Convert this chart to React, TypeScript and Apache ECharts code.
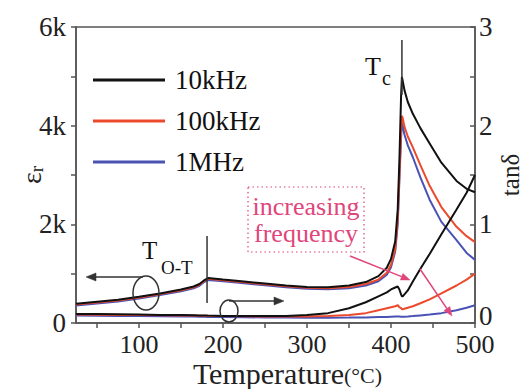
import React, { useEffect, useRef } from "react";
import * as echarts from "echarts";

const temperatures = [25, 50, 75, 100, 125, 150, 165, 172, 178, 182, 200, 225, 250, 275, 300, 325, 350, 370, 385, 395, 400, 405, 408, 410, 412, 413, 414, 416, 420, 426, 435, 446, 460, 478, 490, 500];

const epsBlack = [390, 430, 470, 530, 600, 680, 740, 790, 870, 910, 880, 840, 800, 760, 730, 725, 760, 830, 950, 1120, 1300, 1650, 2300, 3300, 4600, 4990, 4900, 4720, 4480, 4240, 3950, 3640, 3250, 2880, 2720, 2650];
const epsRed = [375, 415, 455, 515, 585, 665, 725, 775, 855, 895, 865, 825, 785, 745, 715, 705, 730, 790, 880, 1020, 1180, 1500, 2100, 3000, 3900, 4200, 4150, 3980, 3780, 3560, 3200, 2780, 2350, 1950, 1760, 1640];
const epsBlue = [355, 395, 435, 495, 565, 645, 705, 755, 835, 870, 845, 805, 765, 725, 695, 685, 705, 760, 845, 980, 1130, 1450, 2000, 2900, 3750, 4050, 4000, 3820, 3600, 3360, 2950, 2500, 2050, 1680, 1420, 1280];

const tanBlack = [0.09, 0.09, 0.088, 0.085, 0.082, 0.08, 0.078, 0.077, 0.076, 0.075, 0.072, 0.07, 0.07, 0.072, 0.08, 0.1, 0.15, 0.21, 0.27, 0.31, 0.34, 0.36, 0.37, 0.34, 0.29, 0.27, 0.27, 0.29, 0.33, 0.42, 0.55, 0.7, 0.9, 1.15, 1.32, 1.5];
const tanRed = [0.085, 0.084, 0.082, 0.08, 0.078, 0.076, 0.075, 0.074, 0.073, 0.072, 0.07, 0.068, 0.066, 0.065, 0.065, 0.07, 0.08, 0.1, 0.13, 0.15, 0.16, 0.17, 0.18, 0.16, 0.15, 0.14, 0.14, 0.145, 0.155, 0.17, 0.2, 0.24, 0.3, 0.38, 0.44, 0.5];
const tanBlue = [0.075, 0.074, 0.072, 0.07, 0.068, 0.066, 0.065, 0.064, 0.063, 0.062, 0.06, 0.058, 0.056, 0.055, 0.054, 0.054, 0.055, 0.057, 0.06, 0.062, 0.064, 0.066, 0.067, 0.066, 0.064, 0.063, 0.063, 0.064, 0.066, 0.07, 0.077, 0.085, 0.1, 0.13, 0.155, 0.18];

const seriesNames = ["10kHz", "100kHz", "1MHz"];
const xTickLabels = [100, 200, 300, 400, 500];
const xTicks = [50, 100, 150, 200, 250, 300, 350, 400, 450, 500];
const yLeftTicks = [0, 1000, 2000, 3000, 4000, 5000, 6000];
const yRightTicks = [0, 0.5, 1, 1.5, 2, 2.5, 3];
const yRightLabels = [1, 2, 3];
const curieT = 413;
const orthoTetT = 181;

const FONT = '"Liberation Serif", "Times New Roman", serif';
const BLACK = "#111111";
const RED = "#ec4a2c";
const BLUE = "#4a52b4";
const PINK = "#e0457b";
const AXIS = "#555555";

function pairs(vals: number[]) {
  return temperatures.map((t, i) => [t, vals[i]]);
}

function arrow(x1: number, y1: number, x2: number, y2: number, color: string, head = 10, half = 4) {
  const dx = x2 - x1;
  const dy = y2 - y1;
  const len = Math.sqrt(dx * dx + dy * dy);
  const ux = dx / len;
  const uy = dy / len;
  const bx = x2 - ux * head;
  const by = y2 - uy * head;
  return [
    { type: "line", shape: { x1, y1, x2: bx, y2: by }, style: { stroke: color, lineWidth: 1.5 }, z: 100 },
    {
      type: "polygon",
      shape: { points: [[x2, y2], [bx - uy * half, by + ux * half], [bx + uy * half, by - ux * half]] },
      style: { fill: color, stroke: color, lineWidth: 0.5 },
      z: 100,
    },
  ];
}

export default function App() {
  const ref = useRef<HTMLDivElement>(null);
  useEffect(() => {
    if (!ref.current) return;
    const chart = echarts.init(ref.current, null, { renderer: "svg" });
    const lineSeries = (name: string, vals: number[], color: string, yAxisIndex: number, z: number) => ({
      type: "line",
      name,
      data: pairs(vals),
      yAxisIndex,
      showSymbol: false,
      symbol: "none",
      lineStyle: { color, width: 2 },
      itemStyle: { color },
      z,
      silent: true,
    });
    const option: any = {
      animation: false,
      backgroundColor: "#ffffff",
      grid: {
        left: 76,
        right: 50,
        top: 27,
        bottom: 66,
        containLabel: false,
        outerBoundsMode: "none",
        show: true,
        borderColor: AXIS,
        borderWidth: 1.5,
        backgroundColor: "transparent",
      },
      legend: {
        data: seriesNames,
        orient: "vertical",
        left: 88,
        top: 60,
        icon: "rect",
        itemWidth: 72,
        itemHeight: 3,
        itemGap: 11,
        selectedMode: false,
        textStyle: { fontFamily: FONT, fontSize: 27, color: BLACK, lineHeight: 30, padding: [0, 0, 0, 5] },
      },
      xAxis: {
        type: "value",
        min: 25,
        max: 500,
        axisLine: { show: true, lineStyle: { color: AXIS, width: 1.5 } },
        axisTick: { show: true, customValues: xTicks, length: 5, lineStyle: { color: AXIS, width: 1.5 } },
        axisLabel: { customValues: xTickLabels, fontFamily: FONT, fontSize: 26, lineHeight: 21, color: "#222", margin: 11 },
        splitLine: { show: false },
        name: "{a|Temperature}{b|(°C)}",
        nameLocation: "middle",
        nameGap: 38,
        nameMoveOverlap: false,
        nameTextStyle: {
          padding: [0, 0, 0, 24],
          rich: {
            a: { fontFamily: FONT, fontSize: 30, lineHeight: 25, color: "#222" },
            b: { fontFamily: FONT, fontSize: 22, lineHeight: 22, color: "#222", verticalAlign: "bottom" },
          },
        },
      },
      yAxis: [
        {
          type: "value",
          min: 0,
          max: 6000,
          interval: 2000,
          axisLine: { show: true, lineStyle: { color: AXIS, width: 1.5 } },
          axisTick: { show: true, customValues: yLeftTicks, length: 5, lineStyle: { color: AXIS, width: 1.5 } },
          axisLabel: {
            fontFamily: FONT,
            fontSize: 27,
            color: "#222",
            margin: 10,
            formatter: (v: number) => (v === 0 ? "0" : `${v / 1000}k`),
          },
          splitLine: { show: false },
          name: "{a|ε}{b|r}",
          nameLocation: "middle",
          nameGap: 30,
          nameRotate: 90,
          nameMoveOverlap: false,
          nameTextStyle: {
            rich: {
              a: { fontFamily: FONT, fontSize: 28, lineHeight: 30, color: "#222" },
              b: { fontFamily: FONT, fontSize: 19, lineHeight: 19, color: "#222", verticalAlign: "bottom" },
            },
          },
        },
        {
          type: "value",
          position: "right",
          min: 0,
          max: 3,
          interval: 1,
          axisLine: { show: true, lineStyle: { color: AXIS, width: 1.5 } },
          axisTick: { show: true, inside: true, customValues: yRightTicks, length: 5, lineStyle: { color: AXIS, width: 1.5 } },
          axisLabel: { customValues: yRightLabels, fontFamily: FONT, fontSize: 27, color: "#222", margin: 4 },
          splitLine: { show: false },
          name: "tanδ",
          nameLocation: "middle",
          nameGap: 23,
          nameRotate: 90,
          nameMoveOverlap: false,
          nameTextStyle: { fontFamily: FONT, fontSize: 25, color: "#222" },
        },
      ],
      series: [
        lineSeries(seriesNames[2], epsBlue, BLUE, 0, 2),
        lineSeries(seriesNames[1], epsRed, RED, 0, 3),
        lineSeries(seriesNames[0], epsBlack, BLACK, 0, 4),
        lineSeries(seriesNames[2], tanBlue, BLUE, 1, 2),
        lineSeries(seriesNames[1], tanRed, RED, 1, 3),
        lineSeries(seriesNames[0], tanBlack, BLACK, 1, 4),
      ],
    };
    chart.setOption(option);

    const pc = chart.convertToPixel({ xAxisIndex: 0, yAxisIndex: 0 }, [curieT, 5000]) as number[];
    const po = chart.convertToPixel({ xAxisIndex: 0, yAxisIndex: 0 }, [orthoTetT, 900]) as number[];
    const pr0 = chart.convertToPixel({ xAxisIndex: 0, yAxisIndex: 1 }, [500, 0]) as number[];
    const tx = pc[0];
    const ox = po[0];

    const txt = (x: number, y: number, text: string, size: number, color = BLACK) => ({
      type: "text",
      x,
      y,
      z: 100,
      style: { text, fill: color, font: `${size}px ${FONT}`, align: "left", verticalAlign: "middle" },
    });

    chart.setOption({
      graphic: [
        { type: "text", x: pr0[0] + 4, y: pr0[1] - 7, z: 100, style: { text: "0", fill: "#222", font: `27px ${FONT}`, align: "left", verticalAlign: "middle" } },
        { type: "line", shape: { x1: tx, y1: 40, x2: tx, y2: 95 }, style: { stroke: "#333", lineWidth: 1.5 }, z: 100 },
        txt(tx - 37, 66, "T", 26),
        txt(tx - 20, 78, "c", 20),
        { type: "line", shape: { x1: ox, y1: 236, x2: ox, y2: 303 }, style: { stroke: "#333", lineWidth: 1.5 }, z: 100 },
        txt(ox - 65, 250, "T", 25),
        txt(ox - 46, 267, "O-T", 19),
        { type: "ellipse", shape: { cx: 146, cy: 293, rx: 13, ry: 17 }, style: { fill: "none", stroke: "#333", lineWidth: 1.5 }, z: 100 },
        ...arrow(143, 277, 86, 277, "#333"),
        { type: "ellipse", shape: { cx: 229, cy: 311, rx: 9, ry: 11 }, style: { fill: "none", stroke: "#333", lineWidth: 1.5 }, z: 100 },
        ...arrow(229, 301, 284, 301, "#333"),
        { type: "rect", shape: { x: 248, y: 187, width: 116, height: 65 }, style: { fill: "none", stroke: PINK, lineWidth: 1.2, lineDash: [1.5, 3] }, z: 100 },
        { type: "text", x: 306, y: 206, z: 100, style: { text: "increasing", fill: PINK, font: `26px ${FONT}`, align: "center", verticalAlign: "middle" } },
        { type: "text", x: 306, y: 233, z: 100, style: { text: "frequency", fill: PINK, font: `26px ${FONT}`, align: "center", verticalAlign: "middle" } },
        ...arrow(350, 256, 410, 280, PINK, 9, 3.5),
        ...arrow(420, 269, 452, 316, PINK, 9, 3.5),
      ],
    });
    return () => chart.dispose();
  }, []);
  return <div ref={ref} style={{ width: 525, height: 389, position: "absolute", left: 0, top: 0 }} />;
}
